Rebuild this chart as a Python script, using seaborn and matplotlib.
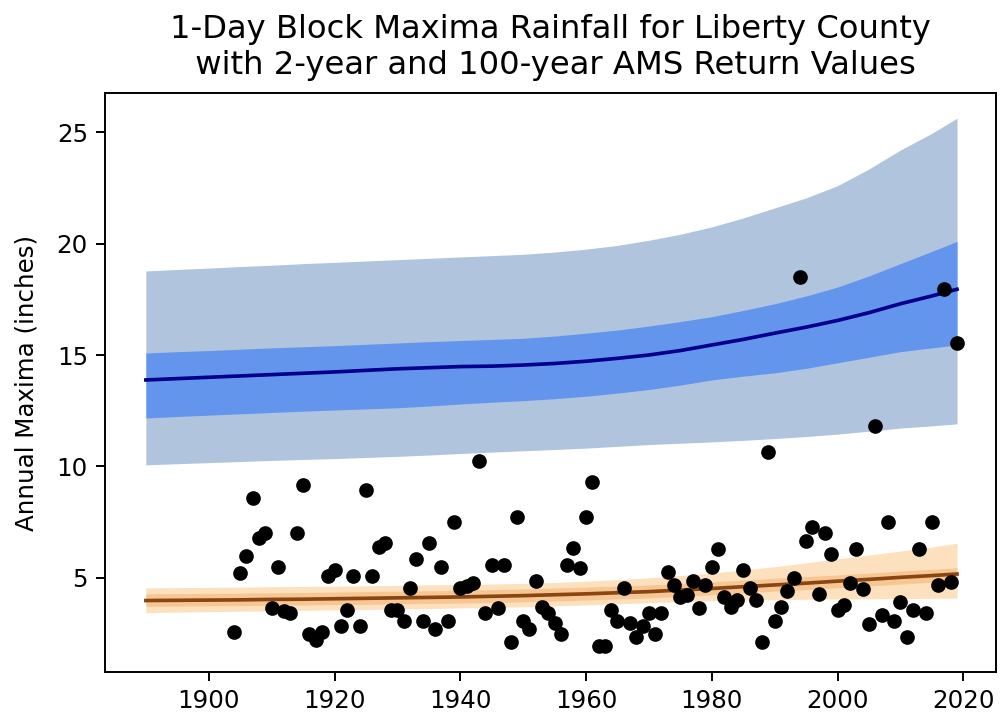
import numpy as np
import pandas as pd
import matplotlib
matplotlib.use("Agg")
import matplotlib.pyplot as plt
import seaborn as sns

# ---- observed annual maxima ----
obs_years = list(range(1904, 2020))
obs_values = [
    2.59, 5.21, 5.96, 8.57, 6.78, 7.03, 3.64, 5.48, 3.52, 3.42,   # 1904-1913
    7.00, 9.17, 2.49, 2.22, 2.59, 5.10, 5.36, 2.82, 3.54, 5.10,   # 1914-1923
    2.82, 8.95, 5.10, 6.40, 6.55, 3.54, 3.54, 3.07, 4.54, 5.84,   # 1924-1933
    3.04, 6.55, 2.70, 5.48, 3.07, 7.52, 4.54, 4.61, 4.76, 10.25,  # 1934-1943
    3.42, 5.58, 3.64, 5.58, 2.12, 7.72, 3.07, 2.70, 4.87, 3.67,   # 1944-1953
    3.44, 2.97, 2.48, 5.58, 6.33, 5.46, 7.72, 9.29, 1.96, 1.96,   # 1954-1963
    3.54, 3.07, 4.54, 2.97, 2.34, 2.82, 3.44, 2.48, 3.44, 5.24,   # 1964-1973
    4.69, 4.16, 4.24, 4.87, 3.64, 4.69, 5.48, 6.30, 4.16, 3.67,   # 1974-1983
    4.01, 5.36, 4.54, 4.01, 2.12, 10.64, 3.07, 3.67, 4.39, 4.99,  # 1984-1993
    18.51, 6.66, 7.27, 4.27, 7.00, 6.06, 3.57, 3.79, 4.76, 6.30,  # 1994-2003
    4.49, 2.94, 11.83, 3.31, 7.49, 3.07, 3.91, 2.34, 3.57, 6.30,  # 2004-2013
    3.44, 7.49, 4.69, 17.95, 4.83, 15.52,                         # 2014-2019
]

# ---- return value curves (read every 5 years) ----
curve_years = [1890, 1895, 1900, 1905, 1910, 1915, 1920, 1925, 1930, 1935, 1940, 1945, 1950,
               1955, 1960, 1965, 1970, 1975, 1980, 1985, 1990, 1995, 2000, 2005, 2010, 2015, 2019]

rv100 = [13.88, 13.94, 14.00, 14.06, 14.12, 14.18, 14.24, 14.31, 14.38, 14.43, 14.48, 14.50, 14.55,
         14.62, 14.72, 14.85, 15.00, 15.20, 15.45, 15.70, 15.98, 16.25, 16.55, 16.90, 17.30, 17.65, 17.95]
rv100_in_hi = [15.09, 15.15, 15.20, 15.26, 15.32, 15.37, 15.42, 15.48, 15.54, 15.60, 15.65, 15.70, 15.75,
               15.85, 15.98, 16.12, 16.30, 16.50, 16.72, 17.00, 17.30, 17.65, 18.05, 18.55, 19.10, 19.65, 20.10]
rv100_in_lo = [12.17, 12.24, 12.30, 12.36, 12.42, 12.48, 12.53, 12.58, 12.63, 12.71, 12.80, 12.88, 12.95,
               13.04, 13.15, 13.29, 13.45, 13.65, 13.88, 14.05, 14.20, 14.40, 14.65, 14.90, 15.15, 15.32, 15.45]
rv100_out_hi = [18.77, 18.84, 18.90, 18.97, 19.03, 19.10, 19.16, 19.22, 19.28, 19.34, 19.40, 19.46, 19.52,
                19.62, 19.75, 19.92, 20.15, 20.42, 20.75, 21.15, 21.60, 22.05, 22.60, 23.35, 24.20, 24.95, 25.63]
rv100_out_lo = [10.07, 10.12, 10.17, 10.22, 10.27, 10.31, 10.35, 10.40, 10.45, 10.51, 10.58, 10.64, 10.70,
                10.76, 10.82, 10.90, 10.98, 11.04, 11.10, 11.17, 11.25, 11.34, 11.45, 11.58, 11.72, 11.82, 11.91]

rv2 = [3.98, 3.99, 4.00, 4.01, 4.03, 4.04, 4.06, 4.08, 4.10, 4.12, 4.14, 4.17, 4.20,
       4.24, 4.28, 4.33, 4.38, 4.45, 4.52, 4.60, 4.68, 4.76, 4.85, 4.93, 5.02, 5.10, 5.17]
rv2_in_hi = [4.28, 4.29, 4.30, 4.31, 4.33, 4.34, 4.36, 4.38, 4.40, 4.42, 4.44, 4.47, 4.50,
             4.54, 4.58, 4.63, 4.68, 4.75, 4.82, 4.90, 4.98, 5.05, 5.13, 5.21, 5.30, 5.38, 5.45]
rv2_in_lo = [3.72, 3.73, 3.74, 3.75, 3.77, 3.78, 3.80, 3.81, 3.83, 3.85, 3.87, 3.89, 3.92,
             3.96, 4.00, 4.05, 4.10, 4.17, 4.24, 4.32, 4.40, 4.47, 4.55, 4.63, 4.72, 4.80, 4.88]
rv2_out_hi = [4.55, 4.56, 4.57, 4.58, 4.60, 4.61, 4.62, 4.64, 4.66, 4.68, 4.70, 4.72, 4.75,
              4.79, 4.85, 4.92, 5.00, 5.10, 5.22, 5.35, 5.50, 5.67, 5.85, 6.02, 6.20, 6.38, 6.55]
rv2_out_lo = [3.44, 3.46, 3.48, 3.50, 3.52, 3.54, 3.56, 3.58, 3.60, 3.62, 3.65, 3.67, 3.70,
              3.74, 3.78, 3.83, 3.88, 3.93, 3.98, 4.00, 4.02, 4.04, 4.05, 4.06, 4.07, 4.08, 4.09]

obs = pd.DataFrame({"year": obs_years, "value": obs_values})
curves = pd.DataFrame({"year": curve_years, "rv100": rv100, "rv2": rv2})

DPI = 176
fig = plt.figure(figsize=(1000 / DPI, 717 / DPI), dpi=DPI)
ax = fig.add_axes([0.105, 0.063, 0.891, 0.807])

# 100-year bands
ax.fill_between(curve_years, rv100_out_lo, rv100_out_hi, color="#B0C4DE", linewidth=0, zorder=1)
ax.fill_between(curve_years, rv100_in_lo, rv100_in_hi, color="#6495ED", linewidth=0, zorder=2)
sns.lineplot(data=curves, x="year", y="rv100", color="#00008B", linewidth=1.5, ax=ax, zorder=3)

# 2-year bands
ax.fill_between(curve_years, rv2_out_lo, rv2_out_hi, color="#FDE0BE", linewidth=0, zorder=1)
ax.fill_between(curve_years, rv2_in_lo, rv2_in_hi, color="#F7C793", linewidth=0, zorder=2)
sns.lineplot(data=curves, x="year", y="rv2", color="#8B4513", linewidth=1.5, ax=ax, zorder=3)

sns.scatterplot(data=obs, x="year", y="value", color="black", s=36, linewidth=0, ax=ax, zorder=4)

ax.set_xlabel("")
ax.set_ylabel("Annual Maxima (inches)", labelpad=7.5)
ax.set_title("1-Day Block Maxima Rainfall for Liberty County\n with 2-year and 100-year AMS Return Values",
             fontsize=13.2, pad=8)
ax.set_xticks([1900, 1920, 1940, 1960, 1980, 2000, 2020])
ax.set_yticks([5, 10, 15, 20, 25])
ax.set_xlim(1883.5, 2025.2)
ax.set_ylim(0.78, 26.75)

fig.savefig("out.png", dpi=DPI)
